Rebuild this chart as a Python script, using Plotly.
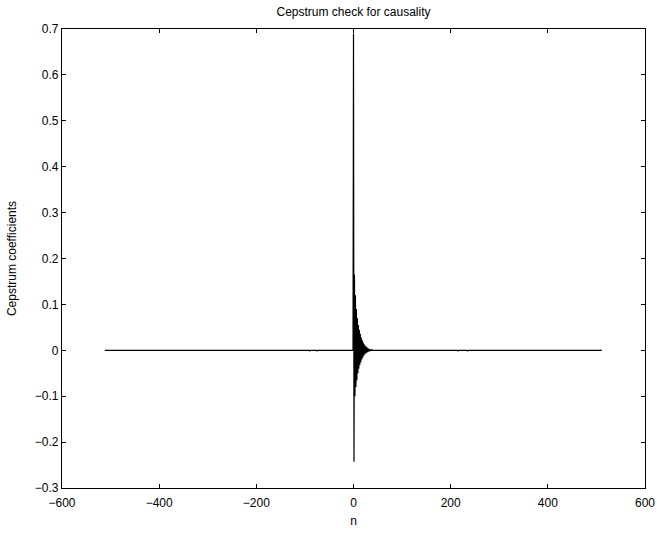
import plotly.graph_objects as go

# Sample index range of the cepstrum
n_start = -512
n_stop = 511

# Cepstrum coefficients for n = 0, 1, 2, ... (causal part)
causal_vals = [0.69, -0.243, 0.165, -0.10, 0.12, -0.08, 0.09, -0.065, 0.07, -0.05,
               0.055, -0.04, 0.045, -0.032, 0.036, -0.026, 0.028, -0.02, 0.022, -0.016,
               0.017, -0.012, 0.013, -0.009, 0.01, -0.007, 0.008, -0.005, 0.006, -0.004,
               0.004, -0.003, 0.003, -0.002, 0.002, -0.0015, 0.0015, -0.001, 0.001, 0.0]

# Small residual blips seen elsewhere (index, value)
blip_n = [-95, -90, -80, -75, -70, 200, 215, 225, 235]
blip_v = [0.0015, -0.0015, 0.0015, -0.0015, 0.0015, 0.0015, -0.0015, 0.0015, -0.0015]

n = list(range(n_start, n_stop + 1))
c = [0.0] * len(n)
for i, v in enumerate(causal_vals):
    c[i - n_start] = v
for k, v in zip(blip_n, blip_v):
    c[k - n_start] = v

x_ticks = [-600, -400, -200, 0, 200, 400, 600]
y_ticks = [-0.3, -0.2, -0.1, 0, 0.1, 0.2, 0.3, 0.4, 0.5, 0.6, 0.7]
y_tick_text = ["\u22120.3", "\u22120.2", "\u22120.1", "0", "0.1", "0.2", "0.3", "0.4", "0.5", "0.6", "0.7"]
x_tick_text = ["\u2212600", "\u2212400", "\u2212200", "0", "200", "400", "600"]

fig = go.Figure()
fig.add_trace(go.Scatter(x=n, y=c, mode="lines",
                         line=dict(color="black", width=1.2), showlegend=False))

font = dict(family="Liberation Sans, Arial, sans-serif", size=12, color="black")

fig.update_layout(
    width=657, height=533,
    margin=dict(l=62, r=12, t=29, b=45),
    paper_bgcolor="white", plot_bgcolor="white",
    font=font,
    title=dict(text="Cepstrum check for causality", x=0.5, xref="paper", xanchor="center",
               y=1 - 12 / 533, yanchor="middle", font=dict(size=12)),
    xaxis=dict(range=[-600, 600], tickvals=x_ticks, ticktext=x_tick_text,
               ticks="inside", ticklen=4, tickcolor="black", automargin=False,
               ticklabelstandoff=3,
               showline=True, linecolor="black", linewidth=1.2, mirror="ticks",
               showgrid=False, zeroline=False,
               title=dict(text="n", standoff=8, font=dict(size=12))),
    yaxis=dict(range=[-0.3, 0.7], tickvals=y_ticks, ticktext=y_tick_text,
               ticks="inside", ticklen=4, tickcolor="black", automargin=False,
               showline=True, linecolor="black", linewidth=1.2, mirror="ticks",
               showgrid=False, zeroline=False,
               title=dict(text="Cepstrum coefficients", standoff=15, font=dict(size=12))),
)

fig.write_html("out.html")
